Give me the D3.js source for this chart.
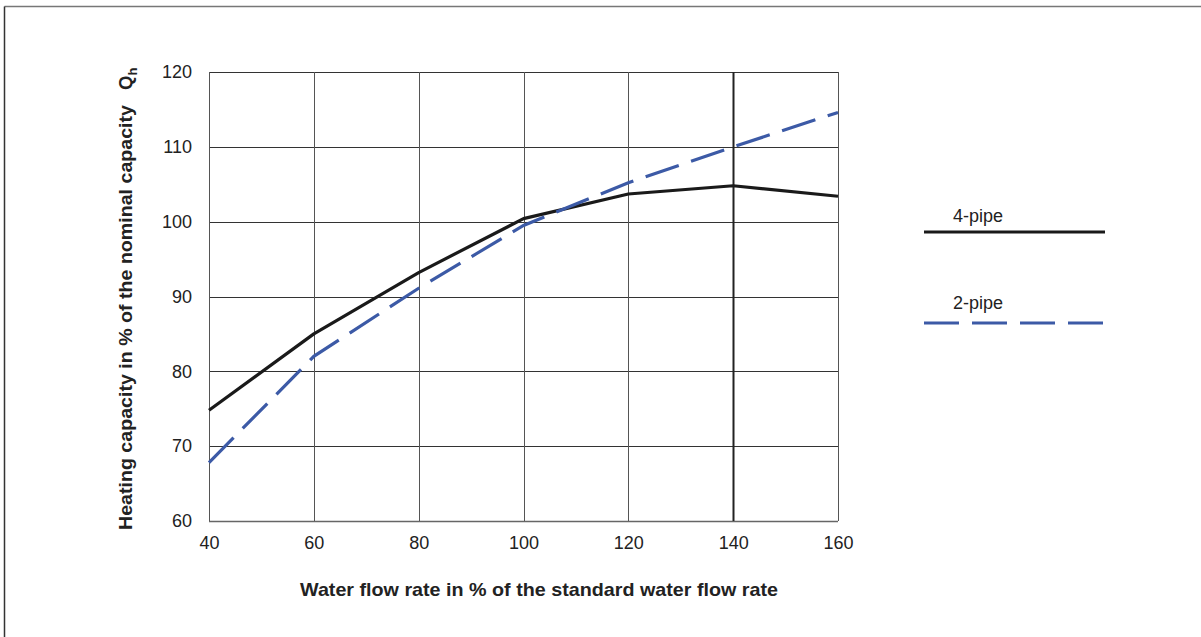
<!DOCTYPE html>
<html><head><meta charset="utf-8">
<script src="https://cdn.jsdelivr.net/npm/d3@7"></script>
<style>body{margin:0;background:#fff}svg{display:block}text{font-family:"Liberation Sans",Arial,sans-serif;fill:#222}</style>
</head><body>
<svg id="c" width="1201" height="637"></svg>
<script>
const flowRates = [40, 60, 80, 100, 120, 140, 160];
const fourPipe = [74.8, 85.0, 93.2, 100.4, 103.7, 104.8, 103.4];
const twoPipe = [67.8, 82.0, 91.1, 99.5, 105.2, 110.0, 114.6];
const yTicks = [60, 70, 80, 90, 100, 110, 120];
const xTicks = [40, 60, 80, 100, 120, 140, 160];
const seriesNames = ["4-pipe", "2-pipe"];

const svg = d3.select("#c");
// frame
svg.append("line").attr("x1",4.5).attr("y1",6.5).attr("x2",1201).attr("y2",6.5).attr("stroke","#777").attr("stroke-width",1.5);
svg.append("line").attr("x1",4.5).attr("y1",6.5).attr("x2",4.5).attr("y2",637).attr("stroke","#333").attr("stroke-width",1.5);

const x = d3.scaleLinear().domain([40,160]).range([209,838]);
const y = d3.scaleLinear().domain([60,120]).range([521,72]);

const g = svg.append("g");
// grid
g.selectAll(".hg").data(yTicks).join("line")
  .attr("x1",x(40)).attr("x2",x(160)).attr("y1",d=>Math.round(y(d))+0.5).attr("y2",d=>Math.round(y(d))+0.5)
  .attr("stroke",d=>d===60?"#666":"#333").attr("stroke-width",d=>d===60?1.5:1);
g.selectAll(".vg").data(xTicks).join("line")
  .attr("y1",y(60)).attr("y2",y(120)).attr("x1",d=>Math.round(x(d))+0.5).attr("x2",d=>Math.round(x(d))+0.5)
  .attr("stroke",d=>d===140?"#222":"#555").attr("stroke-width",d=>d===140?2:1);

// axes labels
const yAxis = d3.axisLeft(y).tickValues(yTicks).tickSize(0).tickPadding(17);
const ya = svg.append("g").attr("transform",`translate(${x(40)},0)`).call(yAxis);
ya.attr("font-size",null).attr("font-family",null);
ya.select(".domain").remove();
ya.selectAll("text").style("font-size","18px").attr("fill","#222");
const xAxis = d3.axisBottom(x).tickValues(xTicks).tickSize(0).tickPadding(15);
const xa = svg.append("g").attr("transform",`translate(0,${y(60)})`).call(xAxis);
xa.attr("font-size",null).attr("font-family",null);
xa.select(".domain").remove();
xa.selectAll("text").style("font-size","18px").attr("fill","#222");

// lines
const line = d3.line().x((d,i)=>x(flowRates[i])).y(d=>y(d));
svg.append("path").attr("d",line(fourPipe)).attr("fill","none").attr("stroke","#1a1a1a").attr("stroke-width",3.2).attr("stroke-linejoin","round");
svg.append("path").attr("d",line(twoPipe)).attr("fill","none").attr("stroke","#3c5aa6").attr("stroke-width",3.2).attr("stroke-dasharray","35,13");

// legend
const leg = [{name:seriesNames[0],ty:222,ly:232,col:"#1a1a1a",dash:null},{name:seriesNames[1],ty:309,ly:323,col:"#3c5aa6",dash:"35,13"}];
leg.forEach(l=>{
  svg.append("text").attr("x",953).attr("y",l.ty).style("font-size","18px").text(l.name);
  svg.append("line").attr("x1",924).attr("x2",1105).attr("y1",l.ly).attr("y2",l.ly).attr("stroke",l.col).attr("stroke-width",3.2).attr("stroke-dasharray",l.dash);
});

// axis titles
svg.append("text").attr("x",539).attr("y",596).attr("text-anchor","middle").style("font-size","18.5px").style("font-weight","bold")
  .attr("textLength",478).attr("lengthAdjust","spacingAndGlyphs").text("Water flow rate in % of the standard water flow rate");
const yt = svg.append("text").attr("transform","translate(132,530) rotate(-90)").attr("text-anchor","start").style("font-size","18.5px").style("font-weight","bold");
yt.append("tspan").attr("textLength",425).attr("lengthAdjust","spacingAndGlyphs").text("Heating capacity in % of the nominal capacity");
yt.append("tspan").attr("x",440).text("Q");
yt.append("tspan").attr("dy",5).style("font-size","13px").text("h");
</script>
</body></html>
